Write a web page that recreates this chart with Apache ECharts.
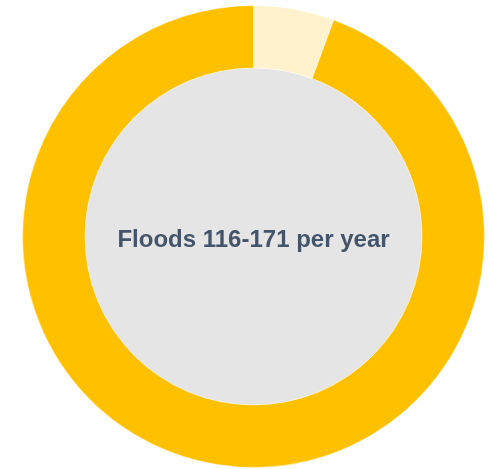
<!DOCTYPE html>
<html>
<head>
<meta charset="utf-8">
<script src="https://cdn.jsdelivr.net/npm/echarts@6/dist/echarts.min.js"></script>
<style>
  html, body { margin: 0; padding: 0; background: #ffffff; }
  #chart { width: 496px; height: 469px; }
</style>
</head>
<body>
<div id="chart"></div>
<script>
// Share of the ring: highlighted slice first, remainder after
const sliceNames = ['Highlighted', 'Remainder'];
const sliceValues = [5.65, 94.35];
const sliceColors = ['#FFF2CC', '#FFC000'];
const centerLabel = 'Floods 116-171 per year';

const chart = echarts.init(document.getElementById('chart'), null, { renderer: 'canvas' });

chart.setOption({
  animation: false,
  series: [
    {
      // grey disc behind the caption
      type: 'pie',
      center: [253.5, 236.5],
      radius: [0, 168.5],
      silent: true,
      label: {
        show: true,
        position: 'center',
        formatter: () => centerLabel,
        fontFamily: 'Liberation Sans, Arial, sans-serif',
        fontWeight: 'bold',
        fontSize: 24,
        color: '#44546A',
        offset: [0, 4]
      },
      labelLine: { show: false },
      itemStyle: { color: '#E5E5E5' },
      data: [{ name: 'center', value: 1 }]
    },
    {
      type: 'pie',
      center: [253.5, 236.5],
      radius: [168.5, 231],
      startAngle: 90,
      clockwise: true,
      silent: true,
      label: { show: false },
      labelLine: { show: false },
      itemStyle: { borderColor: '#ffffff', borderWidth: 0.5 },
      data: sliceNames.map((n, i) => ({
        name: n,
        value: sliceValues[i],
        itemStyle: { color: sliceColors[i] }
      }))
    }
  ]
});
</script>
</body>
</html>
